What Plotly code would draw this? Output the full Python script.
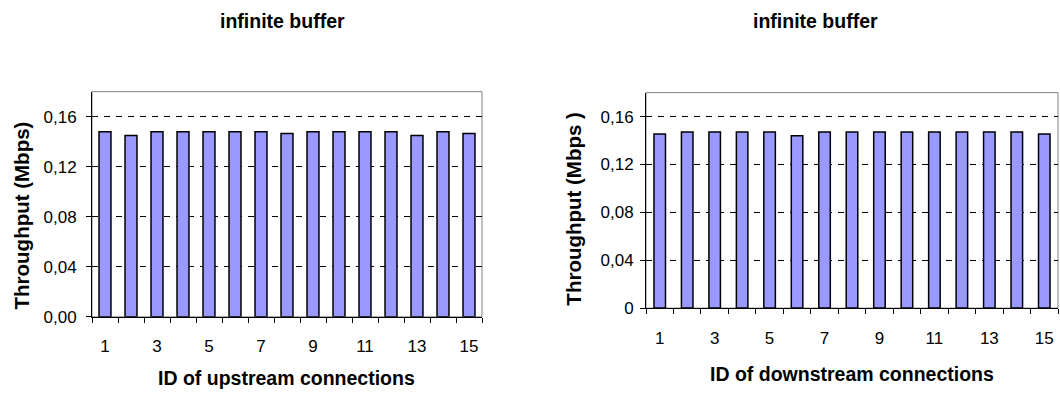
import plotly.graph_objects as go

# ---- data ----
conn_ids = [1, 2, 3, 4, 5, 6, 7, 8, 9, 10, 11, 12, 13, 14, 15]
upstream_tp = [0.148, 0.145, 0.148, 0.148, 0.148, 0.148, 0.148, 0.1465,
               0.148, 0.148, 0.148, 0.148, 0.145, 0.148, 0.1465]
downstream_tp = [0.1455, 0.147, 0.147, 0.147, 0.147, 0.144, 0.147, 0.147,
                 0.147, 0.147, 0.147, 0.147, 0.147, 0.147, 0.1455]
x_tick_vals = [1, 3, 5, 7, 9, 11, 13, 15]
x_tick_text = ["1", "3", "5", "7", "9", "11", "13", "15"]
y_tick_vals = [0, 0.04, 0.08, 0.12, 0.16]
left_y_text = ["0,00", "0,04", "0,08", "0,12", "0,16"]
right_y_text = ["0", "0,04", "0,08", "0,12", "0,16"]
chart_title = "infinite buffer"
y_title = "Throughput (Mbps)"
y_title_right = "Throughput (Mbps )"
left_x_title = "ID of upstream connections"
right_x_title = "ID of downstream connections"

FONT = "Liberation Sans, Arial, sans-serif"
BAR_COLOR = "#9999FF"

fig = go.Figure()
fig.add_trace(go.Bar(x=conn_ids, y=upstream_tp, xaxis="x", yaxis="y", width=0.46,
                     marker=dict(color=BAR_COLOR, line=dict(color="black", width=1.5))))
fig.add_trace(go.Bar(x=conn_ids, y=downstream_tp, xaxis="x2", yaxis="y2", width=0.42,
                     marker=dict(color=BAR_COLOR, line=dict(color="black", width=1.5))))


def xaxis_cfg(domain, anchor, standoff):
    return dict(domain=domain, anchor=anchor, range=[0.5, 15.5],
                tickvals=x_tick_vals, ticktext=x_tick_text, ticks="",
                showline=True, linecolor="black", linewidth=1,
                showgrid=False, zeroline=False, fixedrange=True,
                tickfont=dict(family=FONT, size=17, color="black"),
                ticklabelstandoff=standoff,
                minor=dict(tick0=0.5, dtick=1, ticks="outside", ticklen=5,
                           tickcolor="black", tickwidth=1, showgrid=False))


def yaxis_cfg(domain, anchor, text, standoff):
    return dict(domain=domain, anchor=anchor, range=[0, 0.18],
                tickvals=y_tick_vals, ticktext=text, ticks="outside", ticklen=5,
                tickcolor="black", showline=True, linecolor="black", linewidth=1,
                showgrid=True, gridcolor="black", gridwidth=1, griddash="6px,6px",
                zeroline=False, fixedrange=True, ticklabelstandoff=standoff,
                tickfont=dict(family=FONT, size=17, color="black"))


fig.update_layout(
    width=1060, height=399, margin=dict(l=0, r=0, t=0, b=0),
    paper_bgcolor="white", plot_bgcolor="white", showlegend=False,
    separators=",.", bargap=0.5,
    xaxis=xaxis_cfg([92 / 1060, 482 / 1060], "y", 14),
    yaxis=yaxis_cfg([1 - 325 / 399, 1 - 94 / 399], "x", left_y_text, 6),
    xaxis2=xaxis_cfg([646 / 1060, 1058 / 1060], "y2", 15),
    yaxis2=yaxis_cfg([1 - 316 / 399, 1 - 95 / 399], "x2", right_y_text, 3),
)

for xr, yr in (("x domain", "y domain"), ("x2 domain", "y2 domain")):
    fig.add_shape(type="rect", xref=xr, yref=yr, x0=0, x1=1, y0=0, y1=1,
                  line=dict(color="#808080", width=1), layer="below")

ann = [
    (chart_title, 282, 22, 0, 19.5),
    (chart_title, 815, 22, 0, 19.5),
    (left_x_title, 286, 388, 0, 19.5),
    (right_x_title, 852, 384, 0, 19.5),
    (y_title, 21, 221, -90, 20.5),
    (y_title_right, 574, 214, -90, 20.5),
]
for text, px, py, ang, size in ann:
    fig.add_annotation(text=f"<b>{text}</b>", x=px / 1060, y=1 - py / 399,
                       xref="paper", yref="paper", xanchor="center", yanchor="middle",
                       showarrow=False, textangle=ang,
                       font=dict(family=FONT, size=size, color="black", weight="bold"))

fig.write_html("out.html")
